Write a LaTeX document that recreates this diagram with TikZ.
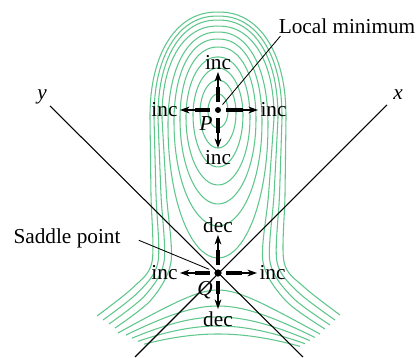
\documentclass[tikz,border=0pt]{standalone}
\usepackage{fontspec}
\setmainfont{Liberation Serif}
\usetikzlibrary{positioning,arrows.meta}
\definecolor{levelgreen}{RGB}{95,198,140}
\tikzset{
  isoline/.style={levelgreen, line width=0.5pt},
  axisline/.style={black, line width=0.5pt},
  leader/.style={black, line width=0.4pt},
  shaft/.style={line width=1.7pt, line cap=butt, shorten <=3.8pt, shorten >=7pt},
  tipline/.style={->, line width=0.6pt, shorten <=3.8pt},
  lbl/.style={inner sep=1pt, font=\fontsize{10}{12}\selectfont},
}
\begin{document}
\begin{tikzpicture}[x=0.47pt, y=-0.47pt, >={Stealth[length=4.5pt,width=3.2pt]}, line join=round]
\useasboundingbox (0,0) rectangle (417,358);
% level curves below the saddle value, closed round P
\foreach \t/\b/\h/\w/\q in {94/128/10/111/1, 80/148/18/113/1, 68/167/25/115/1, 57/185/32/118/0.95, 47/204/38/120/0.92, 39/226/44/123/0.9, 32/258/50/126/0.9}
  \draw[isoline] plot[domain=178:2, samples=44] ({218+\h*sign(cos(\x))*pow(abs(cos(\x)),\q)},{\w-(\w-\t)*pow(sin(\x),\q)})
    -- plot[domain=0:-180, samples=44] ({218+\h*cos(\x)},{\w-(\b-\w)*sin(\x)}) -- cycle;
% level curves above the saddle value, open at the bottom
\foreach \e/\t/\n/\m/\a/\b/\c/\d in {56/26/47/45/115/328/325/329, 60/20/54/52/109/324/330/325, 64/16/60/59/103/320/335/320, 68/12/66/66/97/316/340/315}
  \draw[isoline] plot[smooth] coordinates {(\a,\b) ({(\a+218-\n)/2+8},{\b-28}) ({218-\n},262) ({218-(\n+\e)/2},195) ({218-\e},118)}
    -- plot[domain=178:2, samples=44] ({218+\e*sign(cos(\x))*pow(abs(cos(\x)),0.9)},{118-(118-\t)*pow(sin(\x),0.9)})
    -- plot[smooth] coordinates {({218+\e},118) ({218+(\m+\e)/2},195) ({218+\m},262) ({(\c+218+\m)/2-8},{\d-28}) (\c,\d)};
% level curves below Q
\foreach \p/\k/\l/\r in {17/0.331/-100/102, 33/0.326/-92/97, 44/0.3125/-86/92, 53/0.29/-80/87, 61/0.247/-74/82}
  \draw[isoline] plot[smooth, domain=\l:\r, samples=40] ({218+\x},{273+sqrt(\p*\p+\k*\x*\x)});

% axes
\coordinate (Q) at (218,273);
\coordinate (P) at (218,110);
\coordinate (yend) at (50,106);
\coordinate (yfoot) at (303,357);
\coordinate (xend) at (387,105);
\coordinate (xfoot) at (135,357);
\draw[axisline] (yend) -- (yfoot);
\draw[axisline] (xend) -- (xfoot);
\node[lbl] (ylbl) at (42,97) {\textit{y}};
\node[lbl] (xlbl) at (398,95) {\textit{x}};

% arrows at P
\coordinate (Pn) at (218,72);
\coordinate (Pw) at (180,110);
\coordinate (Pe) at (258,110);
\coordinate (Ps) at (218,148);
\foreach \s in {Pn,Pw,Pe,Ps} {
  \draw[shaft] (P) -- (\s);
  \draw[tipline] (P) -- (\s);
}
\node[lbl, above] (incPn) at (Pn) {inc};
\node[lbl, left] (incPw) at (Pw) {inc};
\node[lbl, right] (incPe) at (Pe) {inc};
\node[lbl, below] (incPs) at (Ps) {inc};
\fill (P) circle [radius=1.4pt];
\node[lbl] (Plbl) at (206,124) {\textit{P}};

% arrows at Q
\coordinate (Qn) at (218,235);
\coordinate (Qw) at (180,273);
\coordinate (Qe) at (257,273);
\coordinate (Qs) at (218,309);
\foreach \s in {Qn,Qw,Qe,Qs} {
  \draw[shaft] (Q) -- (\s);
  \draw[tipline] (Q) -- (\s);
}
\node[lbl, above] (decQn) at (Qn) {dec};
\node[lbl, left] (incQw) at (Qw) {inc};
\node[lbl, right] (incQe) at (Qe) {inc};
\node[lbl, below] (decQs) at (Qs) {dec};
\fill (Q) circle [radius=1.7pt];
\node[lbl] (Qlbl) at (205,290) {\textit{Q}};

% callouts
\node[lbl] (lmin) at (347,26) {Local minimum};
\draw[leader, shorten >=3.3pt] ([xshift=2pt]lmin.south west) -- (P);
\node[lbl] (sp) at (67,238) {Saddle point};
\draw[leader, shorten <=8pt, shorten >=4.5pt] ([yshift=2pt]sp.east) -- (Q);
\end{tikzpicture}
\end{document}
